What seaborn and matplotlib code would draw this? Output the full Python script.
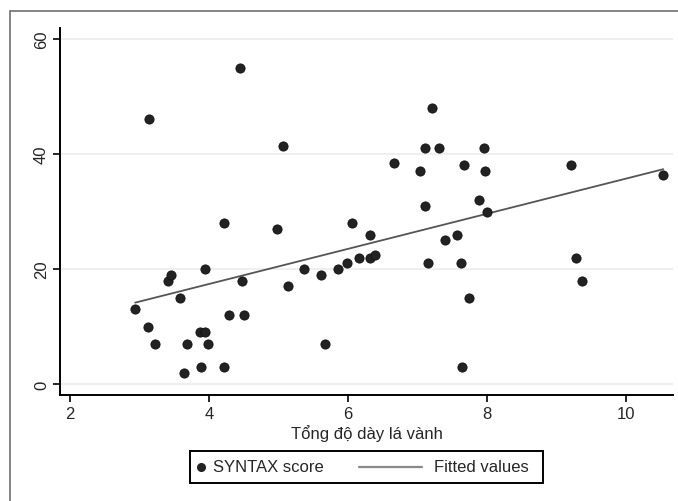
import numpy as np
import pandas as pd
import matplotlib.pyplot as plt
import matplotlib.patches as mpatches
from matplotlib.lines import Line2D
import seaborn as sns

# values
tong_do_day = [2.94, 3.12, 3.14, 3.22, 3.41, 3.45, 3.58, 3.64, 3.68, 3.89,
               3.87, 3.94, 3.94, 3.98, 4.22, 4.22, 4.29, 4.45, 4.47, 4.51,
               4.98, 5.07, 5.13, 5.36, 5.61, 5.67, 5.86, 5.98, 6.06, 6.16,
               6.32, 6.31, 6.38, 6.66, 7.03, 7.10, 7.11, 7.15, 7.21, 7.31,
               7.40, 7.56, 7.63, 7.64, 7.66, 7.74, 7.88, 7.95, 7.97, 8.00,
               9.20, 9.28, 9.36, 10.53]
syntax_score = [13, 10, 46, 7, 18, 19, 15, 2, 7, 3,
                9, 9, 20, 7, 28, 3, 12, 55, 18, 12,
                27, 41.4, 17, 20, 19, 7, 20, 21, 28, 22,
                26, 22, 22.4, 38.4, 37, 41, 31, 21, 48, 41,
                25, 26, 21, 3, 38, 15, 32, 41, 37, 30,
                38, 22, 18, 36.4]
x_ticks = [2, 4, 6, 8, 10]
y_ticks = [0, 20, 40, 60]
legend_labels = ['SYNTAX score', 'Fitted values']

df = pd.DataFrame({'x': tong_do_day, 'y': syntax_score})

sns.set_style('white')
plt.rcParams['font.family'] = ['Liberation Sans', 'DejaVu Sans']

W, H = 678, 502
fig = plt.figure(figsize=(W / 100, H / 100), dpi=100)
ax = fig.add_axes([60 / W, 1 - 396 / H, 613 / W, 367 / H])

for t in y_ticks:
    ax.axhline(t, color='#ececec', lw=1.2, zorder=0)

sns.regplot(data=df, x='x', y='y', ax=ax, scatter=False, ci=None,
            line_kws={'color': '#555555', 'lw': 1.3})
sns.scatterplot(data=df, x='x', y='y', ax=ax, s=44, color='#222222',
                edgecolor='#111111', linewidth=0.6, zorder=3)

ax.set_xlim(1.86, 10.67)
ax.set_ylim(-1.9, 61.9)
ax.set_xticks(x_ticks)
ax.set_yticks(y_ticks)
ax.set_yticklabels([str(t) for t in y_ticks], rotation=90, va='center')
ax.tick_params(axis='both', direction='out', length=5, width=1.2,
               color='black', labelsize=12, pad=3, left=True, bottom=True)
for side in ['top', 'right']:
    ax.spines[side].set_visible(False)
for side in ['left', 'bottom']:
    ax.spines[side].set_color('black')
    ax.spines[side].set_linewidth(1.4)
ax.set_xlabel('Tổng độ dày lá vành', fontsize=12, labelpad=2)
ax.set_ylabel('')

# legend box drawn by hand to match the Stata layout
def fx(px):
    return px / W

def fy(py):
    return 1 - py / H

tf = fig.transFigure
fig.patches.append(mpatches.Rectangle((fx(190), fy(484)), fx(543) - fx(190),
                                      fy(452) - fy(484), transform=tf,
                                      fill=False, edgecolor='black', lw=1.4))
fig.lines.append(Line2D([fx(201)], [fy(468)], transform=tf, marker='o',
                        ls='', color='#222222', markersize=5.5))
fig.text(fx(213), fy(468), legend_labels[0], fontsize=12, va='center')
fig.lines.append(Line2D([fx(359), fx(422)], [fy(468), fy(468)], transform=tf,
                        color='#888888', lw=1.6))
fig.text(fx(434), fy(468), legend_labels[1], fontsize=12, va='center')

fig.patches.append(mpatches.Rectangle((fx(10), -0.1), 1.0, 1.1 - 12 / H,
                                      transform=tf, fill=False,
                                      edgecolor='#707070', lw=1.2))

fig.savefig('out.png', dpi=100)
